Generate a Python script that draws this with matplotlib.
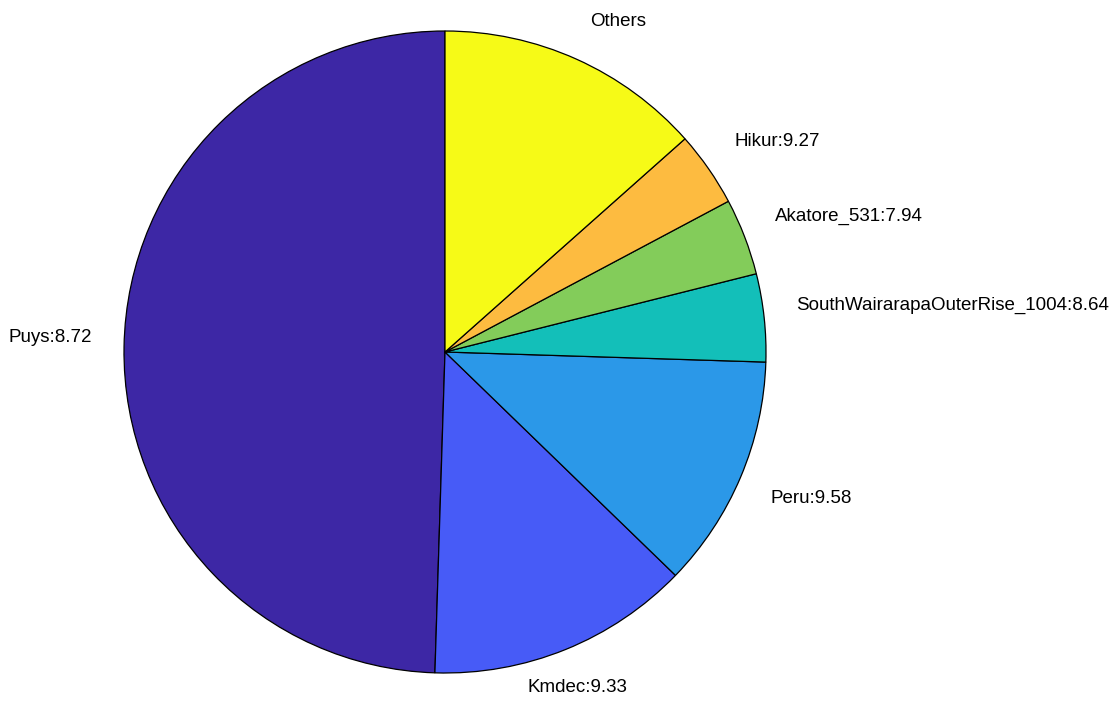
import numpy as np
import matplotlib
matplotlib.use("Agg")
import matplotlib.pyplot as plt

# Data (share of the pie), counterclockwise from 90 deg
names = ["Puys", "Kmdec", "Peru", "SouthWairarapaOuterRise_1004",
         "Akatore_531", "Hikur", "Others"]
magnitudes = ["8.72", "9.33", "9.58", "8.64", "7.94", "9.27", None]
shares = [49.5, 13.25, 11.75, 4.42, 3.86, 3.78, 13.44]
colors = ["#3D27A5", "#475BF7", "#2B98E8", "#13BFB9", "#83CC5A", "#FDBB40", "#F6FA17"]

labels = [f"{n}:{m}" if m is not None else n for n, m in zip(names, magnitudes)]

plt.rcParams['font.family'] = ['Liberation Sans', 'DejaVu Sans']

fig = plt.figure(figsize=(11.2, 7.04), dpi=100)
ax = fig.add_axes([0, 0, 1, 1])

wedges, texts = ax.pie(shares, labels=labels, colors=colors, startangle=90,
                       counterclock=True, labeldistance=1.1,
                       wedgeprops=dict(edgecolor="black", linewidth=0.9),
                       textprops=dict(fontsize=13.5, color="black"))

for w, t in zip(wedges, texts):
    ang = np.deg2rad((w.theta1 + w.theta2) / 2)
    c, s = np.cos(ang), np.sin(ang)
    if c > 0.39:
        t.set_ha("left")
    elif c < -0.39:
        t.set_ha("right")
    else:
        t.set_ha("center")
    t.set_va("bottom" if s >= 0 else "top")

scale = 321.0
cx, cy = 445.0, 352.0
ax.set_aspect("auto")
ax.set_xlim(-cx / scale, (1120 - cx) / scale)
ax.set_ylim(-(704 - cy) / scale, cy / scale)
ax.axis("off")

fig.savefig("out.png", dpi=100)
